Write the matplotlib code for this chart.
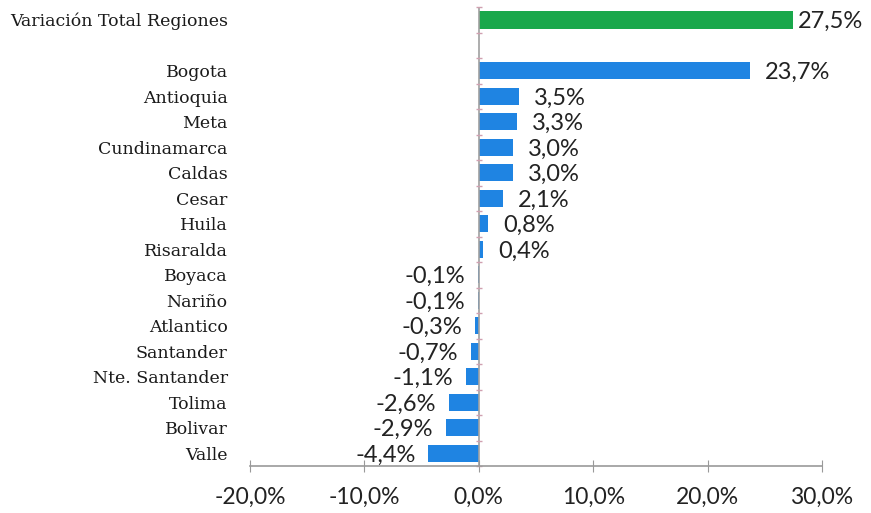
import matplotlib
matplotlib.use("Agg")
import matplotlib.pyplot as plt
from matplotlib.transforms import offset_copy

total_label = "Variación Total Regiones"
total_value = 27.5
regions = ["Bogota", "Antioquia", "Meta", "Cundinamarca", "Caldas", "Cesar", "Huila",
           "Risaralda", "Boyaca", "Nariño", "Atlantico", "Santander", "Nte. Santander",
           "Tolima", "Bolivar", "Valle"]
values = [23.7, 3.5, 3.3, 3.0, 3.0, 2.1, 0.8, 0.4, -0.1, -0.1, -0.3, -0.7, -1.1, -2.6, -2.9, -4.4]
xticks = [-20, -10, 0, 10, 20, 30]

blue = "#1f84e2"
green = "#19a84b"

fig = plt.figure(figsize=(8.71, 5.13), dpi=100)
ax = fig.add_axes([250/871, 1-466/513, 572/871, 459/513])

pos_total = 0
pos_regions = [i + 2 for i in range(len(regions))]

ax.barh([pos_total], [total_value], height=0.7, color=green)
ax.barh(pos_regions, values, height=0.65, color=blue)

ax.set_xlim(-20, 30)
ax.set_ylim(17.5, -0.5)

for s in ["top", "right", "left"]:
    ax.spines[s].set_visible(False)
ax.spines["bottom"].set_color("#999999")
ax.spines["bottom"].set_linewidth(1.2)
ax.axvline(0, color="#a0a0a0", lw=1.2, zorder=1)

ax.set_xticks(xticks)
ax.set_xticklabels([f"{t:.1f}%".replace(".", ",") for t in xticks],
                   fontsize=16.5, family="Lato", color="#222222")
ax.tick_params(axis="x", direction="inout", length=8, color="#999999", pad=11)

ax.set_yticks([pos_total] + pos_regions)
ax.set_yticklabels([total_label] + regions, family="DejaVu Serif", fontsize=12.5, color="#1a1a1a")
ax.tick_params(axis="y", length=0, pad=16)

# small tick marks on the zero axis at row boundaries
bounds = [p + 0.5 for p in range(-1, 18)]
ax.plot([0]*len(bounds), bounds, linestyle="none", marker="_", markersize=5,
        color="#d0a0b0", clip_on=False)

def lab(v, p, gap):
    txt = f"{v:.1f}%".replace(".", ",")
    if v >= 0:
        tr = offset_copy(ax.transData, fig=fig, x=gap, y=-2, units="dots")
        ax.text(v, p, txt, transform=tr, ha="left", va="center", fontsize=17,
                family="Lato", color="#222222")
    else:
        tr = offset_copy(ax.transData, fig=fig, x=-gap, y=-2, units="dots")
        ax.text(v, p, txt, transform=tr, ha="right", va="center", fontsize=17,
                family="Lato", color="#222222")

lab(total_value, pos_total, 4)
for v, p in zip(values, pos_regions):
    lab(v, p, 15 if v >= 0 else 13)

fig.savefig("out.png", dpi=100, facecolor="white")
